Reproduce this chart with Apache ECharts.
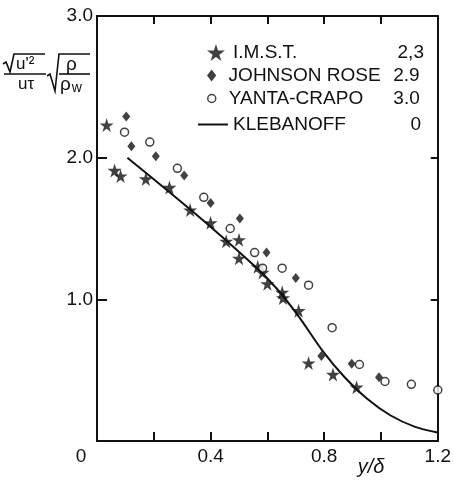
<!DOCTYPE html>
<html>
<head>
<meta charset="utf-8">
<script src="https://cdn.jsdelivr.net/npm/echarts@6/dist/echarts.min.js"></script>
<style>
html,body{margin:0;padding:0;background:#fff;}
#chart{width:454px;height:485px;}
</style>
</head>
<body>
<div id="chart"></div>
<script>
// ---- data ----
const imst = [
  [0.034, 2.23], [0.062, 1.91], [0.083, 1.87], [0.172, 1.85], [0.255, 1.79],
  [0.328, 1.63], [0.400, 1.54], [0.455, 1.41], [0.500, 1.42], [0.500, 1.29],
  [0.566, 1.23], [0.583, 1.19], [0.600, 1.11], [0.652, 1.05], [0.655, 1.01],
  [0.710, 0.92], [0.745, 0.55], [0.831, 0.47], [0.914, 0.38]
];
const johnsonRose = [
  [0.103, 2.29], [0.121, 2.08], [0.207, 2.01], [0.307, 1.875], [0.400, 1.68],
  [0.503, 1.57], [0.597, 1.33], [0.700, 1.15], [0.790, 0.60], [0.897, 0.545],
  [0.993, 0.45]
];
const yantaCrapo = [
  [0.097, 2.18], [0.186, 2.11], [0.283, 1.925], [0.376, 1.72], [0.469, 1.50],
  [0.555, 1.33], [0.583, 1.22], [0.652, 1.22], [0.745, 1.10], [0.828, 0.80],
  [0.924, 0.54], [1.014, 0.42], [1.107, 0.40], [1.200, 0.36]
];
const klebanoff = [
  [0.107, 2.00], [0.331, 1.63], [0.552, 1.24], [0.631, 1.08],
  [0.710, 0.88], [0.793, 0.64], [0.872, 0.45], [0.950, 0.30],
  [1.034, 0.18], [1.120, 0.10], [1.200, 0.06]
];
const seriesNames = ['I.M.S.T.', 'JOHNSON ROSE', 'YANTA-CRAPO', 'KLEBANOFF'];
const seriesParams = ['2,3', '2.9', '3.0', '0'];
const xTickLabels = ['0', '0.4', '0.8', '1.2'];
const yTickLabels = ['1.0', '2.0', '3.0'];

// ---- chart ----
const FONT = "'Liberation Sans', Arial, Helvetica, sans-serif";
const INK = '#111';
const starPath = 'path://M50,0 L61,35 L98,35 L68,57 L79,91 L50,70 L21,91 L32,57 L2,35 L39,35 Z';
const diamondPath = 'path://M5,0 L10,6.5 L5,13 L0,6.5 Z';

const chart = echarts.init(document.getElementById('chart'), null, {renderer: 'canvas'});

function legendFmt(name) {
  const i = seriesNames.indexOf(name);
  return '{n|' + name + '}{v|' + seriesParams[i] + '}';
}
function legendBase(name, top, left, nameW) {
  return {
    data: [name], top: top, left: left, padding: 0, selectedMode: false,
    formatter: legendFmt,
    textStyle: {
      color: INK, fontFamily: FONT, fontSize: 19,
      rich: {
        n: {width: nameW, fontSize: 19, fontFamily: FONT, color: INK},
        v: {width: 31, align: 'right', fontSize: 19, fontFamily: FONT, color: INK}
      }
    }
  };
}

const option = {
  animation: false,
  backgroundColor: '#fff',
  grid: {left: 97, right: 9, top: 16, bottom: 44, containLabel: false},
  xAxis: [
    {
      type: 'value', min: 0, max: 1.2, interval: 0.2, position: 'bottom',
      axisLine: {show: true, onZero: false, lineStyle: {color: INK, width: 2}},
      axisTick: {show: true, inside: true, length: 9, lineStyle: {color: INK, width: 2}},
      splitLine: {show: false},
      axisLabel: {
        margin: 6, color: INK, fontFamily: FONT, fontSize: 19,
        formatter: function (v) {
          const r = Math.round(v * 10) / 10;
          const s0 = r === 0 ? '0' : r.toFixed(1);
          if (xTickLabels.indexOf(s0) < 0) return '';
          if (s0 === '0') return '{z|0}';
          return s0;
        },
        rich: {
          z: {padding: [0, 32, 0, 0], fontSize: 19, fontFamily: FONT, color: INK}
        }
      },
      name: 'y/δ',
      nameLocation: 'end',
      nameGap: -80,
      nameTextStyle: {
        color: INK, fontFamily: FONT, fontSize: 20, fontStyle: 'italic',
        align: 'left', verticalAlign: 'top', padding: [16, 0, 0, 0]
      }
    },
    {
      type: 'value', min: 0, max: 1.2, interval: 0.2, position: 'top',
      axisLine: {show: true, onZero: false, lineStyle: {color: INK, width: 2}},
      axisTick: {show: true, inside: true, length: 8, lineStyle: {color: INK, width: 2}},
      axisLabel: {show: false},
      splitLine: {show: false}
    }
  ],
  yAxis: [
    {
      type: 'value', min: 0, max: 3, interval: 1, position: 'left',
      axisLine: {show: true, onZero: false, lineStyle: {color: INK, width: 2}},
      axisTick: {show: true, inside: true, length: 10, lineStyle: {color: INK, width: 2}},
      splitLine: {show: false},
      axisLabel: {
        margin: 4, color: INK, fontFamily: FONT, fontSize: 19,
        formatter: function (v) {
          const s = (Math.round(v * 10) / 10).toFixed(1);
          return yTickLabels.indexOf(s) >= 0 ? s : '';
        }
      }
    },
    {
      type: 'value', min: 0, max: 3, interval: 1, position: 'right',
      axisLine: {show: true, onZero: false, lineStyle: {color: INK, width: 2}},
      axisTick: {show: true, inside: true, length: 7, lineStyle: {color: INK, width: 2}},
      axisLabel: {show: false},
      splitLine: {show: false}
    }
  ],
  legend: [
    Object.assign(legendBase(seriesNames[0], 43, 207, 160), {itemWidth: 24, itemHeight: 17}),
    Object.assign(legendBase(seriesNames[1], 66, 207, 160), {itemWidth: 24, itemHeight: 12}),
    Object.assign(legendBase(seriesNames[2], 89, 207, 160), {itemWidth: 24, itemHeight: 8,
      itemStyle: {color: '#fff', borderColor: INK, borderWidth: 1.5}}),
    Object.assign(legendBase(seriesNames[3], 115, 198, 157), {itemWidth: 30, itemHeight: 2,
      data: [{name: seriesNames[3], icon: 'rect'}], itemStyle: {color: INK, borderWidth: 0}})
  ],
  series: [
    {
      name: seriesNames[0], type: 'scatter', data: imst,
      symbol: starPath, symbolSize: 14,
      itemStyle: {color: INK}
    },
    {
      name: seriesNames[1], type: 'scatter', data: johnsonRose,
      symbol: diamondPath, symbolSize: [8, 10],
      itemStyle: {color: INK}
    },
    {
      name: seriesNames[2], type: 'scatter', data: yantaCrapo,
      symbol: 'circle', symbolSize: 8,
      itemStyle: {color: '#fff', borderColor: INK, borderWidth: 1.5}
    },
    {
      name: seriesNames[3], type: 'line', data: klebanoff,
      showSymbol: false, symbol: 'none', smooth: 0.25,
      itemStyle: {color: INK},
      lineStyle: {color: INK, width: 2}
    }
  ],
  graphic: [
    // y-axis quantity: sqrt(u'^2)/u_tau * sqrt(rho/rho_w)
    {type: 'polyline', shape: {points: [[3, 64], [6, 62], [10, 72], [14, 54], [45, 54]]},
      style: {stroke: INK, lineWidth: 1.6, fill: null}},
    {type: 'text', x: 16, y: 56, style: {text: "u'²", fontSize: 17, fontFamily: FONT, fill: INK}},
    {type: 'line', shape: {x1: 4, y1: 74, x2: 46, y2: 74}, style: {stroke: INK, lineWidth: 1.6}},
    {type: 'text', x: 18, y: 76, style: {text: 'uτ', fontSize: 17, fontFamily: FONT, fill: INK}},
    {type: 'polyline', shape: {points: [[47, 76], [50, 74], [55, 91], [59, 54], [90, 54]]},
      style: {stroke: INK, lineWidth: 1.6, fill: null}},
    {type: 'text', x: 66, y: 55, style: {text: 'ρ', fontSize: 19, fontFamily: FONT, fill: INK}},
    {type: 'line', shape: {x1: 59, y1: 74, x2: 90, y2: 74}, style: {stroke: INK, lineWidth: 1.6}},
    {type: 'text', x: 60, y: 75, style: {
      text: '{a|ρ}{b|w}', fontFamily: FONT, fill: INK,
      rich: {a: {fontSize: 19, fontFamily: FONT, fill: INK}, b: {fontSize: 14, fontFamily: FONT, fill: INK, padding: [6, 0, 0, 1]}}
    }}
  ]
};
chart.setOption(option);
</script>
</body>
</html>
